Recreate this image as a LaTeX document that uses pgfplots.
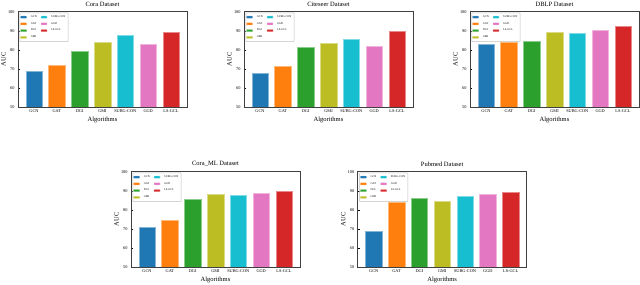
\documentclass[border=0pt]{standalone}
\usepackage{fontspec}
\setmainfont{Liberation Serif}
\usepackage{pgfplots}
\pgfplotsset{compat=1.18}

\definecolor{cgcn}{HTML}{1F77B4}
\definecolor{cgat}{HTML}{FF7F0E}
\definecolor{cdgi}{HTML}{2CA02C}
\definecolor{cgmi}{HTML}{BCBD22}
\definecolor{csubg}{HTML}{17BECF}
\definecolor{cggd}{HTML}{E377C2}
\definecolor{clsgcl}{HTML}{D62728}

\pgfplotsset{
  auc/.style={
    scale only axis, width=169pt, height=95.3pt, anchor=north west,
    ybar, bar shift=0pt, bar width=0.72,
    xmin=-0.7, xmax=6.7, ymin=50, ymax=100,
    ytick={50,60,...,100},
    xtick={0,...,6}, xticklabels={GCN,GAT,DGI,GMI,SUBG-CON,GGD,LS-GCL},
    xtick pos=lower, ytick pos=left,
    tick align=inside, major tick length=2pt,
    axis line style={black!75, line width=0.6pt},
    tick style={black, line width=0.4pt},
    /pgf/number format/assume math mode=true,
    tick label style={font=\fontsize{4.3}{5}\selectfont},
    xticklabel style={yshift=1pt},
    xlabel={Algorithms}, ylabel={AUC},
    label style={font=\fontsize{6.5}{7}\selectfont},
    xlabel style={yshift=2pt},
    ylabel style={yshift=-4.5pt},
    title style={font=\fontsize{6.5}{7}\selectfont, yshift=-4pt},
    legend style={at={(0.01,0.99)}, anchor=north west,
      font=\fontsize{2.8}{3}\selectfont, legend columns=2,
      draw=black!25, rounded corners=0.5pt, inner sep=0.6pt,
      row sep=-0.6pt, column sep=2pt, legend cell align=left},
    legend image code/.code={\draw[##1] (0pt,-1.1pt) rectangle (6pt,1.1pt);},
  },
  bGCN/.style={fill=cgcn, draw=cgcn!55!white, line width=0.4pt},
  bGAT/.style={fill=cgat, draw=cgat!55!white, line width=0.4pt},
  bDGI/.style={fill=cdgi, draw=cdgi!55!white, line width=0.4pt},
  bGMI/.style={fill=cgmi, draw=cgmi!55!white, line width=0.4pt},
  bSUBG/.style={fill=csubg, draw=csubg!55!white, line width=0.4pt},
  bGGD/.style={fill=cggd, draw=cggd!55!white, line width=0.4pt},
  bLS/.style={fill=clsgcl, draw=clsgcl!55!white, line width=0.4pt},
}

\begin{document}
\begin{tikzpicture}
\path[use as bounding box] (0,0) rectangle (640pt,284pt);

% legend order is row-wise, so plots go GCN, SUBG-CON, GAT, GGD, DGI, LS-GCL, GMI
\begin{axis}[auc, at={(18pt,272.3pt)}, title={Cora Dataset}]
\addplot[bGCN] coordinates {(0,68.6)}; \addlegendentry{GCN}
\addplot[bSUBG] coordinates {(4,87.6)}; \addlegendentry{SUBG-CON}
\addplot[bGAT] coordinates {(1,71.8)}; \addlegendentry{GAT}
\addplot[bGGD] coordinates {(5,83.1)}; \addlegendentry{GGD}
\addplot[bDGI] coordinates {(2,79.1)}; \addlegendentry{DGI}
\addplot[bLS] coordinates {(6,89.2)}; \addlegendentry{LS-GCL}
\addplot[bGMI] coordinates {(3,84.1)}; \addlegendentry{GMI}
\end{axis}

\begin{axis}[auc, at={(244pt,272.3pt)}, title={Citeseer Dataset}]
\addplot[bGCN] coordinates {(0,67.6)}; \addlegendentry{GCN}
\addplot[bSUBG] coordinates {(4,85.5)}; \addlegendentry{SUBG-CON}
\addplot[bGAT] coordinates {(1,71.6)}; \addlegendentry{GAT}
\addplot[bGGD] coordinates {(5,81.9)}; \addlegendentry{GGD}
\addplot[bDGI] coordinates {(2,81.4)}; \addlegendentry{DGI}
\addplot[bLS] coordinates {(6,89.9)}; \addlegendentry{LS-GCL}
\addplot[bGMI] coordinates {(3,83.4)}; \addlegendentry{GMI}
\end{axis}

\begin{axis}[auc, at={(470pt,272.3pt)}, title={DBLP Dataset}]
\addplot[bGCN] coordinates {(0,82.9)}; \addlegendentry{GCN}
\addplot[bSUBG] coordinates {(4,88.7)}; \addlegendentry{SUBG-CON}
\addplot[bGAT] coordinates {(1,84.0)}; \addlegendentry{GAT}
\addplot[bGGD] coordinates {(5,90.2)}; \addlegendentry{GGD}
\addplot[bDGI] coordinates {(2,84.5)}; \addlegendentry{DGI}
\addplot[bLS] coordinates {(6,92.3)}; \addlegendentry{LS-GCL}
\addplot[bGMI] coordinates {(3,89.2)}; \addlegendentry{GMI}
\end{axis}

\begin{axis}[auc, at={(131pt,112.3pt)}, title={Cora\_ML Dataset}]
\addplot[bGCN] coordinates {(0,70.7)}; \addlegendentry{GCN}
\addplot[bSUBG] coordinates {(4,87.8)}; \addlegendentry{SUBG-CON}
\addplot[bGAT] coordinates {(1,74.6)}; \addlegendentry{GAT}
\addplot[bGGD] coordinates {(5,88.7)}; \addlegendentry{GGD}
\addplot[bDGI] coordinates {(2,85.5)}; \addlegendentry{DGI}
\addplot[bLS] coordinates {(6,89.7)}; \addlegendentry{LS-GCL}
\addplot[bGMI] coordinates {(3,88.3)}; \addlegendentry{GMI}
\end{axis}

\begin{axis}[auc, at={(357.7pt,112.3pt)}, title={Pubmed Dataset}]
\addplot[bGCN] coordinates {(0,68.7)}; \addlegendentry{GCN}
\addplot[bSUBG] coordinates {(4,87.2)}; \addlegendentry{SUBG-CON}
\addplot[bGAT] coordinates {(1,83.9)}; \addlegendentry{GAT}
\addplot[bGGD] coordinates {(5,88.3)}; \addlegendentry{GGD}
\addplot[bDGI] coordinates {(2,86.2)}; \addlegendentry{DGI}
\addplot[bLS] coordinates {(6,89.0)}; \addlegendentry{LS-GCL}
\addplot[bGMI] coordinates {(3,84.4)}; \addlegendentry{GMI}
\end{axis}
\end{tikzpicture}
\end{document}
